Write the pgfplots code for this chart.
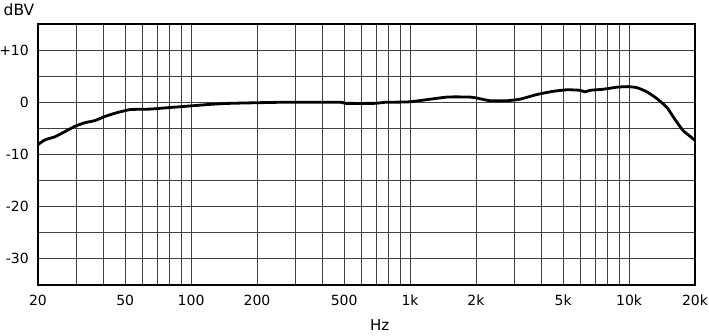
\documentclass[border=0pt]{standalone}
\usepackage{fontspec}
\setmainfont{DejaVu Sans}
\usepackage{pgfplots}
\pgfplotsset{compat=1.18}
\begin{document}
\begin{tikzpicture}
\path[use as bounding box] (-38pt,-51pt) rectangle (671pt,285pt);
\begin{axis}[
  at={(0,0)}, anchor=south west,
  scale only axis, width=657pt, height=261pt,
  xmode=log, log basis x=10,
  xmin=20, xmax=20000, ymin=-35, ymax=15,
  xtick={20,50,100,200,500,1000,2000,5000,10000,20000},
  xticklabels={20,50,100,200,500,1k,2k,5k,10k,20k},
  minor xtick={30,40,60,70,80,90,300,400,600,700,800,900,3000,4000,6000,7000,8000,9000},
  ytick={-30,-20,-10,0,10},
  yticklabels={-30,-20,-10,0,+10},
  minor ytick={-25,-15,-5,5},
  grid=both,
  major grid style={black!75, line width=0.9pt},
  minor grid style={black!75, line width=0.9pt},
  major tick length=0pt, minor tick length=0pt,
  axis line style={black, line width=1.6pt},
  tick label style={font=\fontsize{14}{16}\selectfont},
  /pgf/number format/assume math mode=true,
  yticklabel style={anchor=east, inner sep=0pt, xshift=-9pt},
  xticklabel style={anchor=north, inner sep=0pt, yshift=-10pt},
  clip=false,
]
\addplot[black, line width=2.8pt, smooth, tension=0.3] coordinates {
(20,-8.1) (21.5,-7.2) (23.9,-6.6) (26.6,-5.6) (29.5,-4.6) (32.8,-3.9)
(36.4,-3.5) (40.5,-2.7) (44.9,-2.1) (52.6,-1.4) (65,-1.3) (80,-1.0)
(98.9,-0.7) (122,-0.4) (151,-0.2) (255,0) (479,0) (504,-0.2) (692,-0.2)
(768,0) (1000,0.1) (1476,1.0) (1879,1.0) (2023,0.8) (2318,0.3) (2772,0.3)
(3178,0.6) (3800,1.5) (4498,2.1) (5212,2.4) (5972,2.3) (6296,2.0)
(6638,2.3) (7610,2.5) (8812,2.9) (9890,3.0) (10870,2.8) (12074,2.0)
(13408,0.7) (14896,-1.0) (16208,-3.3) (17634,-5.4) (18974,-6.5) (20000,-7.3)
};
\node[font=\fontsize{15}{17}\selectfont] at (rel axis cs:0.52,0) [yshift=-40pt] {Hz};
\node[font=\fontsize{15.5}{17}\selectfont] at (rel axis cs:0,1) [xshift=-19pt, yshift=14pt] {dBV};
\end{axis}
\end{tikzpicture}
\end{document}
